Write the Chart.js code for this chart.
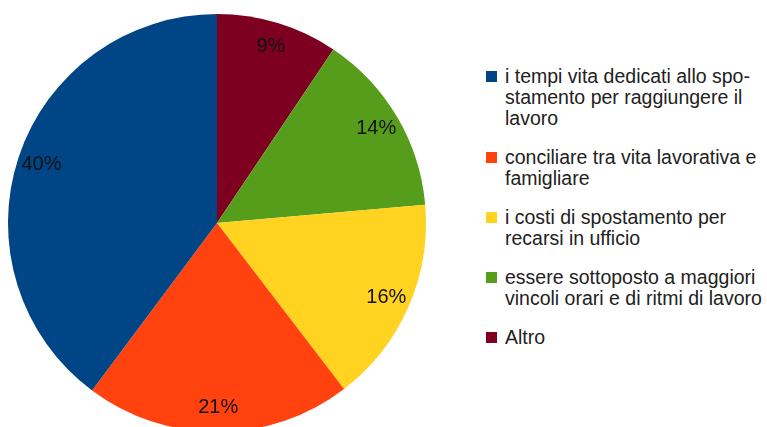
<!DOCTYPE html>
<html>
<head>
<meta charset="utf-8">
<script src="https://cdn.jsdelivr.net/npm/chart.js@4/dist/chart.umd.min.js"></script>
<style>
  html, body { margin: 0; padding: 0; background: #fff; overflow: hidden; }
  body { width: 767px; height: 427px; position: relative; font-family: "Liberation Sans", Arial, sans-serif; }
  #wrap { position: absolute; left: 0; top: 0; width: 436px; height: 446px; }
  #legend { position: absolute; left: 486px; top: 66px; font-size: 19.5px; line-height: 21px; color: #222; white-space: nowrap; }
  .item { position: relative; padding-left: 19px; margin-bottom: 18px; }
  .box { position: absolute; left: 0; top: 5px; width: 11px; height: 11px; }
</style>
</head>
<body>
<div id="wrap"><canvas id="chart"></canvas></div>
<div id="legend"></div>
<script>
'use strict';

// legend order (slices are drawn counter-clockwise in the original)
var categories = [
  ['i tempi vita dedicati allo spo-', 'stamento per raggiungere il', 'lavoro'],
  ['conciliare tra vita lavorativa e', 'famigliare'],
  ['i costi di spostamento per', 'recarsi in ufficio'],
  ['essere sottoposto a maggiori', 'vincoli orari e di ritmi di lavoro'],
  ['Altro']
];
// labels show them rounded
var values = [39.8, 20.6, 16.0, 14.2, 9.4];
var colors = ['#004586', '#ff420e', '#ffd320', '#579d1c', '#7e0021'];

// Chart.js goes clockwise, so feed it reversed
var chartLabels = categories.slice().reverse().map(function(l) { return l.join(' '); });
var chartValues = values.slice().reverse();
var chartColors = colors.slice().reverse();

var pctLabels = {
  id: 'pctLabels',
  afterDatasetsDraw: function(chart) {
    var ctx = chart.ctx;
    var meta = chart.getDatasetMeta(0);
    var total = chartValues.reduce(function(a, b) { return a + b; }, 0);
    ctx.save();
    ctx.fillStyle = '#111';
    ctx.font = '20px "Liberation Sans", Arial, sans-serif';
    ctx.textAlign = 'center';
    ctx.textBaseline = 'middle';
    meta.data.forEach(function(arc, i) {
      var p = arc.getProps(['x', 'y', 'startAngle', 'endAngle', 'outerRadius'], true);
      var mid = (p.startAngle + p.endAngle) / 2;
      var r = p.outerRadius * 0.885;
      var txt = Math.round(chartValues[i] / total * 100) + '%';
      ctx.fillText(txt, p.x + Math.cos(mid) * r, p.y + Math.sin(mid) * r);
    });
    ctx.restore();
  }
};

var ctx = document.getElementById('chart').getContext('2d');
var myChart = new Chart(ctx, {
  type: 'pie',
  data: {
    labels: chartLabels,
    datasets: [{
      data: chartValues,
      backgroundColor: chartColors,
      borderWidth: 0
    }]
  },
  options: {
    responsive: true,
    maintainAspectRatio: false,
    animation: false,
    layout: { padding: { left: 8, right: 10, top: 14, bottom: 14 } },
    plugins: {
      legend: { display: false },
      tooltip: { enabled: false }
    }
  },
  plugins: [pctLabels]
});

// html legend, built from the same arrays
var legend = document.getElementById('legend');
categories.forEach(function(lines, i) {
  var div = document.createElement('div');
  div.className = 'item';
  var box = document.createElement('span');
  box.className = 'box';
  box.style.background = colors[i];
  div.appendChild(box);
  lines.forEach(function(line) {
    var l = document.createElement('div');
    l.textContent = line;
    div.appendChild(l);
  });
  legend.appendChild(div);
});
</script>
</body>
</html>
